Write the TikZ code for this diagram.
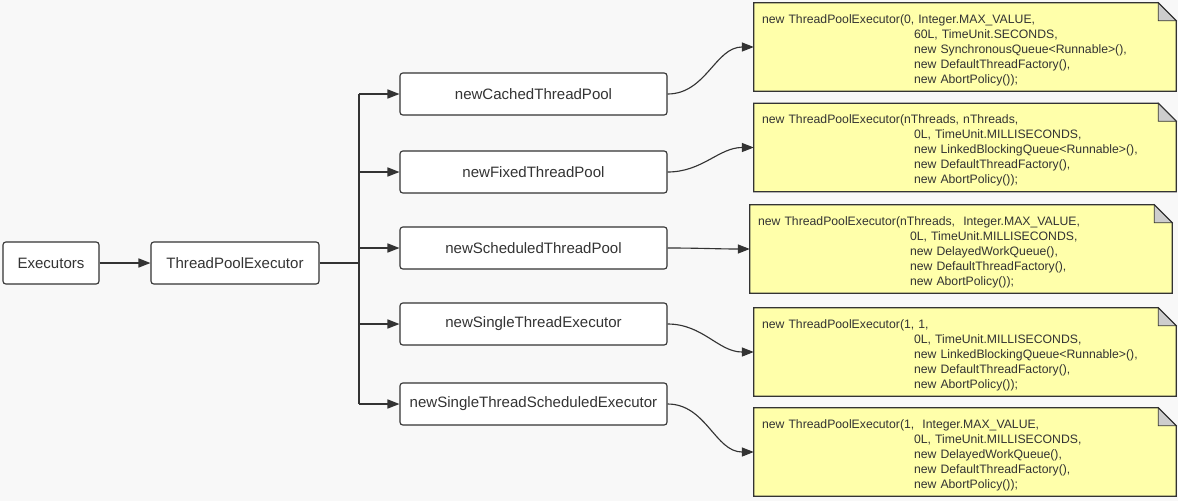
\documentclass[tikz,border=0pt]{standalone}
\usepackage{fontspec}
\setmainfont{Liberation Sans}
\usetikzlibrary{arrows.meta}
\definecolor{bgcol}{RGB}{248,248,248}
\definecolor{linecol}{RGB}{51,51,51}
\definecolor{notecol}{RGB}{255,255,170}
\definecolor{foldcol}{RGB}{205,205,205}
\newcommand{\noteindent}{\hspace*{3.8cm}}
\begin{document}
\begin{tikzpicture}[
  every node/.style={font=\fontsize{10.7}{12}\selectfont, text=linecol},
  box/.style={draw=linecol, line width=0.8pt, fill=white, rounded corners=2pt,
    minimum height=1.05cm, inner sep=0pt},
  note/.style={fill=notecol, text width=10.15cm, minimum height=2.2cm,
    inner xsep=0.2cm, inner ysep=0pt, align=left,
    font=\fontsize{8.7}{10.67}\selectfont,
    execute at begin node={\rule{0pt}{10.5pt}}},
  conn/.style={draw=linecol, line width=0.8pt},
  arr/.style={conn, -{Triangle[length=8.5pt,width=6.5pt]}}
]
   \fill [bgcol] (0,0) rectangle (29.45,-12.525);
   % left chain
   \node [box, minimum width=2.4cm] (exec) at (1.275,-6.575) {Executors};
   \node [box, minimum width=4.2cm] (tpe) at (5.875,-6.575) {ThreadPoolExecutor};
   \draw [arr] (exec) -- (tpe);
   % factory methods
   \node [box, minimum width=6.675cm] (cached) at (13.3375,-2.35) {newCachedThreadPool};
   \node [box, minimum width=6.675cm] (fixed) at (13.3375,-4.3) {newFixedThreadPool};
   \node [box, minimum width=6.675cm] (sched) at (13.3375,-6.2) {newScheduledThreadPool};
   \node [box, minimum width=6.675cm] (single) at (13.3375,-8.1) {newSingleThreadExecutor};
   \node [box, minimum width=6.675cm] (singlesched) at (13.3375,-10.1) {newSingleThreadScheduledExecutor};
   \coordinate (split) at (8.975,-6.575);
   \draw [conn] (tpe) -- (split);
   \draw [conn] (cached.west -| split) -- (singlesched.west -| split);
   \foreach \m in {cached,fixed,sched,single,singlesched}
     \draw [arr] (\m.west -| split) -- (\m.west);
   % constructor notes
   \node [note] (ncached) at (24.125,-1.175) {new ThreadPoolExecutor(0, Integer.MAX\_VALUE,\\
     \noteindent 60L, TimeUnit.SECONDS,\\
     \noteindent new SynchronousQueue<Runnable>(),\\
     \noteindent new DefaultThreadFactory(),\\
     \noteindent new AbortPolicy());};
   \node [note] (nfixed) at (24.125,-3.6875) {new ThreadPoolExecutor(nThreads, nThreads,\\
     \noteindent 0L, TimeUnit.MILLISECONDS,\\
     \noteindent new LinkedBlockingQueue<Runnable>(),\\
     \noteindent new DefaultThreadFactory(),\\
     \noteindent new AbortPolicy());};
   \node [note] (nsched) at (24.025,-6.225) {new ThreadPoolExecutor(nThreads, \ Integer.MAX\_VALUE,\\
     \noteindent 0L, TimeUnit.MILLISECONDS,\\
     \noteindent new DelayedWorkQueue(),\\
     \noteindent new DefaultThreadFactory(),\\
     \noteindent new AbortPolicy());};
   \node [note] (nsingle) at (24.125,-8.8) {new ThreadPoolExecutor(1, 1,\\
     \noteindent 0L, TimeUnit.MILLISECONDS,\\
     \noteindent new LinkedBlockingQueue<Runnable>(),\\
     \noteindent new DefaultThreadFactory(),\\
     \noteindent new AbortPolicy());};
   \node [note] (nsinglesched) at (24.125,-11.3) {new ThreadPoolExecutor(1, \ Integer.MAX\_VALUE,\\
     \noteindent 0L, TimeUnit.MILLISECONDS,\\
     \noteindent new DelayedWorkQueue(),\\
     \noteindent new DefaultThreadFactory(),\\
     \noteindent new AbortPolicy());};
   % note outlines with folded corner
   \foreach \n in {ncached,nfixed,nsched,nsingle,nsinglesched} {
     \fill [bgcol] ([xshift=-0.45cm]\n.north east) -- (\n.north east) -- ([yshift=-0.45cm]\n.north east) -- cycle;
     \filldraw [fill=foldcol, draw=linecol, line width=0.5pt] ([xshift=-0.45cm]\n.north east) -- ([xshift=-0.45cm,yshift=-0.45cm]\n.north east) -- ([yshift=-0.45cm]\n.north east) -- cycle;
     \draw [conn, line join=miter] (\n.south west) -- (\n.north west) -- ([xshift=-0.45cm]\n.north east)
       -- ([yshift=-0.45cm]\n.north east) -- (\n.south east) -- cycle;
   }
   % links to notes
   \draw [arr] (cached.east) to [out=0,in=180] (ncached.west);
   \draw [arr] (fixed.east) to [out=0,in=180] (nfixed.west);
   \draw [arr] (sched.east) to [out=0,in=180] (nsched.west);
   \draw [arr] (single.east) to [out=0,in=180] (nsingle.west);
   \draw [arr] (singlesched.east) to [out=0,in=180] (nsinglesched.west);
\end{tikzpicture}
\end{document}
